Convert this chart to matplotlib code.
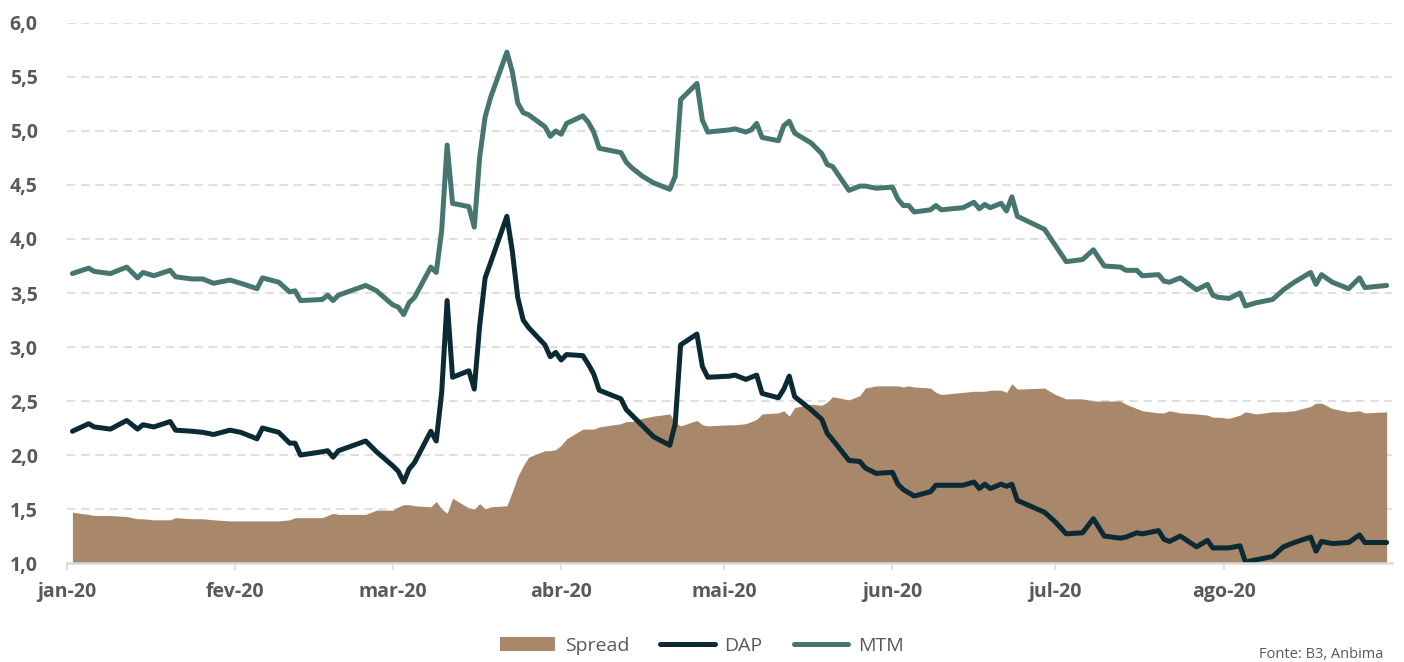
import pandas as pd
import numpy as np
import matplotlib
matplotlib.use("Agg")
import matplotlib.pyplot as plt
import matplotlib.dates as mdates
from matplotlib.ticker import FuncFormatter

plt.rcParams["font.family"] = ["Open Sans", "DejaVu Sans"]

dates = [
    "01-02", "01-05", "01-06", "01-09", "01-12", "01-14", "01-15", "01-17", "01-20", "01-21",
    "01-24", "01-26", "01-28", "01-31", "02-02", "02-05", "02-06", "02-09", "02-11", "02-12",
    "02-13", "02-17", "02-18", "02-19", "02-20", "02-25", "02-27", "03-01", "03-02", "03-03",
    "03-04", "03-05", "03-08", "03-09", "03-10", "03-11", "03-12", "03-15", "03-16", "03-17",
    "03-18", "03-19", "03-22", "03-23", "03-24", "03-25", "03-26", "03-29", "03-30", "03-31",
    "04-01", "04-02", "04-05", "04-06", "04-07", "04-08", "04-12", "04-13", "04-14", "04-16",
    "04-18", "04-21", "04-22", "04-23", "04-26", "04-27", "04-28", "05-02", "05-03", "05-05",
    "05-06", "05-07", "05-08", "05-11", "05-12", "05-13", "05-14", "05-17", "05-19", "05-20",
    "05-21", "05-24", "05-26", "05-27", "05-29", "06-01", "06-02", "06-03", "06-04", "06-05",
    "06-08", "06-09", "06-10", "06-14", "06-16", "06-17", "06-18", "06-19", "06-21", "06-22",
    "06-23", "06-24", "06-29", "07-01", "07-03", "07-06", "07-08", "07-10", "07-13", "07-14",
    "07-16", "07-17", "07-20", "07-21", "07-22", "07-24", "07-27", "07-29", "07-30", "07-31",
    "08-02", "08-04", "08-05", "08-07", "08-10", "08-12", "08-14", "08-17", "08-18", "08-19",
    "08-21", "08-24", "08-26", "08-27", "08-31",
]

mtm = [
    3.68, 3.73, 3.70, 3.68, 3.74, 3.64, 3.69, 3.66, 3.71, 3.65,
    3.63, 3.63, 3.59, 3.62, 3.59, 3.54, 3.64, 3.60, 3.51, 3.52,
    3.43, 3.44, 3.48, 3.43, 3.48, 3.57, 3.52, 3.39, 3.37, 3.30,
    3.41, 3.46, 3.74, 3.69, 4.08, 4.87, 4.33, 4.30, 4.11, 4.76,
    5.13, 5.31, 5.73, 5.55, 5.26, 5.17, 5.15, 5.04, 4.95, 5.00,
    4.97, 5.07, 5.14, 5.08, 4.99, 4.84, 4.80, 4.71, 4.66, 4.58,
    4.52, 4.46, 4.58, 5.29, 5.44, 5.10, 4.99, 5.01, 5.02, 4.99,
    5.01, 5.07, 4.94, 4.91, 5.05, 5.09, 4.98, 4.89, 4.79, 4.69,
    4.67, 4.45, 4.49, 4.49, 4.47, 4.48, 4.37, 4.31, 4.31, 4.25,
    4.27, 4.31, 4.27, 4.29, 4.34, 4.28, 4.32, 4.29, 4.33, 4.26,
    4.39, 4.21, 4.09, 3.94, 3.79, 3.81, 3.90, 3.75, 3.74, 3.71,
    3.71, 3.66, 3.67, 3.61, 3.60, 3.64, 3.53, 3.58, 3.48, 3.46,
    3.45, 3.50, 3.38, 3.41, 3.44, 3.53, 3.60, 3.69, 3.58, 3.67,
    3.60, 3.54, 3.64, 3.55, 3.57,
]

dap = [
    2.22, 2.29, 2.26, 2.24, 2.32, 2.24, 2.28, 2.26, 2.31, 2.23,
    2.22, 2.21, 2.19, 2.23, 2.21, 2.15, 2.25, 2.21, 2.11, 2.11,
    2.00, 2.03, 2.04, 1.98, 2.04, 2.13, 2.03, 1.90, 1.85, 1.75,
    1.87, 1.93, 2.22, 2.13, 2.58, 3.43, 2.72, 2.78, 2.61, 3.20,
    3.64, 3.78, 4.21, 3.89, 3.46, 3.25, 3.18, 3.02, 2.91, 2.95,
    2.88, 2.93, 2.92, 2.84, 2.75, 2.60, 2.52, 2.42, 2.37, 2.27,
    2.17, 2.09, 2.29, 3.02, 3.12, 2.82, 2.72, 2.73, 2.74, 2.70,
    2.72, 2.74, 2.57, 2.53, 2.61, 2.73, 2.54, 2.42, 2.33, 2.20,
    2.14, 1.95, 1.94, 1.88, 1.83, 1.84, 1.73, 1.68, 1.65, 1.62,
    1.66, 1.72, 1.72, 1.72, 1.75, 1.69, 1.73, 1.69, 1.73, 1.71,
    1.73, 1.58, 1.47, 1.38, 1.27, 1.28, 1.41, 1.25, 1.23, 1.24,
    1.28, 1.27, 1.30, 1.22, 1.20, 1.25, 1.15, 1.21, 1.14, 1.14,
    1.14, 1.16, 1.01, 1.03, 1.06, 1.15, 1.19, 1.24, 1.11, 1.20,
    1.18, 1.19, 1.26, 1.19, 1.19,
]

spread = [
    1.47, 1.45, 1.44, 1.44, 1.43, 1.41, 1.41, 1.40, 1.40, 1.42,
    1.41, 1.41, 1.40, 1.39, 1.39, 1.39, 1.39, 1.39, 1.40, 1.42,
    1.42, 1.42, 1.44, 1.46, 1.45, 1.45, 1.49, 1.49, 1.52, 1.54,
    1.54, 1.53, 1.52, 1.57, 1.50, 1.46, 1.60, 1.51, 1.50, 1.55,
    1.50, 1.52, 1.53, 1.66, 1.80, 1.90, 1.98, 2.04, 2.04, 2.05,
    2.09, 2.15, 2.24, 2.24, 2.24, 2.26, 2.29, 2.31, 2.31, 2.34,
    2.36, 2.38, 2.30, 2.27, 2.32, 2.28, 2.27, 2.28, 2.28, 2.29,
    2.31, 2.33, 2.38, 2.39, 2.41, 2.36, 2.44, 2.47, 2.46, 2.49,
    2.54, 2.51, 2.55, 2.62, 2.64, 2.64, 2.64, 2.63, 2.64, 2.63,
    2.62, 2.58, 2.56, 2.58, 2.59, 2.59, 2.59, 2.60, 2.60, 2.58,
    2.66, 2.61, 2.62, 2.56, 2.52, 2.52, 2.50, 2.50, 2.50, 2.47,
    2.43, 2.41, 2.39, 2.39, 2.41, 2.39, 2.38, 2.37, 2.35, 2.35,
    2.34, 2.37, 2.40, 2.38, 2.40, 2.40, 2.41, 2.45, 2.48, 2.48,
    2.43, 2.40, 2.41, 2.39, 2.40,
]

x = pd.to_datetime(["2020-" + d for d in dates])

C_SPREAD = "#a8876a"
C_DAP = "#0b2a33"
C_MTM = "#47766f"
C_TEXT = "#595959"
C_GRID = "#d9d9d9"

fig = plt.figure(figsize=(14.04, 6.62), dpi=100)
ax = fig.add_axes([0.0477, 0.1495, 0.9438, 0.8158])

ax.fill_between(x, 0, spread, color=C_SPREAD, lw=0, zorder=2, label="Spread")
ax.plot(x, dap, color=C_DAP, lw=3.6, solid_joinstyle="round", solid_capstyle="round",
        zorder=3, label="DAP")
ax.plot(x, mtm, color=C_MTM, lw=3.6, solid_joinstyle="round", solid_capstyle="round",
        zorder=3, label="MTM")

ax.set_ylim(1.0, 6.0)
ax.set_xlim(pd.Timestamp("2020-01-01"), pd.Timestamp("2020-09-01"))

ax.set_yticks(np.arange(1.0, 6.01, 0.5))
ax.yaxis.set_major_formatter(FuncFormatter(lambda v, p: f"{v:.1f}".replace(".", ",")))
for yv in np.arange(1.5, 6.01, 0.5):
    ax.axhline(yv, color=C_GRID, lw=1.2, dashes=(5, 3.5), zorder=1)

months = ["jan", "fev", "mar", "abr", "mai", "jun", "jul", "ago"]
month_ticks = pd.date_range("2020-01-01", "2020-08-01", freq="MS")
ax.set_xticks(month_ticks)
ax.set_xticklabels([f"{m}-20" for m in months])

for s in ["top", "right", "left"]:
    ax.spines[s].set_visible(False)
ax.spines["bottom"].set_color(C_GRID)
ax.spines["bottom"].set_linewidth(1.8)
ax.spines["bottom"].set_zorder(4)

ax.tick_params(axis="y", length=0, pad=21, labelsize=14, labelcolor=C_TEXT)
ax.tick_params(axis="x", length=5, width=1.2, color=C_GRID, pad=9,
               labelsize=14, labelcolor=C_TEXT)
for lab in ax.get_xticklabels() + ax.get_yticklabels():
    lab.set_fontweight("bold")

handles, labels = ax.get_legend_handles_labels()
fig.legend(handles, labels, loc="center", bbox_to_anchor=(0.5, 1 - 646 / 662),
           ncol=3, frameon=False, fontsize=14, labelcolor=C_TEXT,
           handlelength=2.8, handletextpad=0.5, columnspacing=1.6)

fig.text(1383 / 1404, 1 - 654 / 662, "Fonte: B3, Anbima", ha="right", va="center",
         fontsize=10.5, color=C_TEXT)

fig.savefig("out.png", dpi=100)
